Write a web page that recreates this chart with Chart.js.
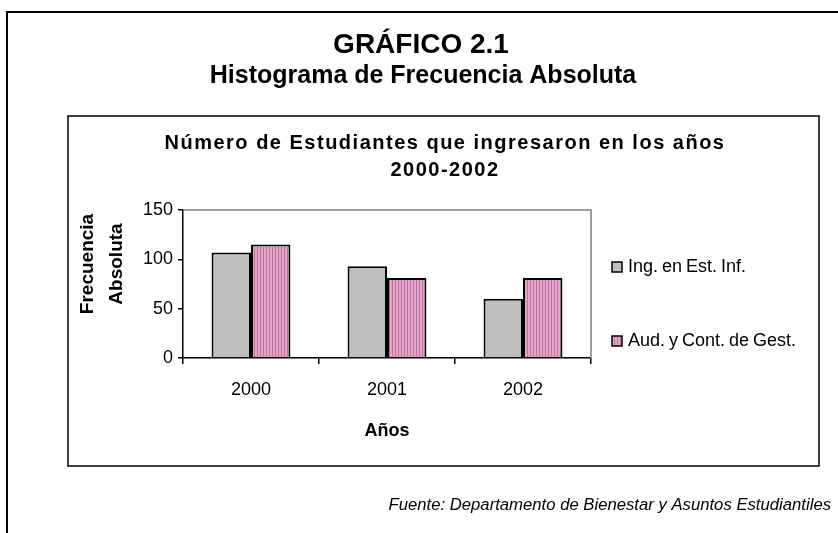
<!DOCTYPE html>
<html>
<head>
<meta charset="utf-8">
<script src="https://cdn.jsdelivr.net/npm/chart.js@4"></script>
<style>
  html, body { margin: 0; padding: 0; background: #fff; }
  canvas { display: block; }
</style>
</head>
<body>
<canvas id="grafico" width="838" height="533"></canvas>
<script>
// datos
const anios = ['2000', '2001', '2002'];
const ingEstInf = [107, 93, 60];
const audContGest = [115, 81, 81];
const nombresSeries = ['Ing. en Est. Inf.', 'Aud. y Cont. de Gest.'];
const ticksY = [0, 50, 100, 150];

const tituloPrincipal = 'GRÁFICO 2.1';
const subtitulo = 'Histograma de Frecuencia Absoluta';
const tituloInterno = ['Número de Estudiantes que ingresaron en los años', '2000-2002'];
const tituloY = ['Frecuencia', 'Absoluta'];
const tituloX = 'Años';
const fuente = 'Fuente: Departamento de Bienestar y Asuntos Estudiantiles';

const FAM = '"Liberation Sans", Arial, sans-serif';

const canvas = document.getElementById('grafico');
const ctx = canvas.getContext('2d');

// rayado vertical de la serie rosada
function rayado() {
    const c = document.createElement('canvas');
    c.width = 3;
    c.height = 1;
    const g = c.getContext('2d');
    g.fillStyle = '#e2a6c8';
    g.fillRect(0, 0, 3, 1);
    g.fillStyle = '#bf739f';
    g.fillRect(2, 0, 1, 1);
    return ctx.createPattern(c, 'repeat');
}

const marco = {
    id: 'marco',
    beforeDraw(chart) {
        const c = chart.ctx;
        c.save();
        c.fillStyle = '#fff';
        c.fillRect(0, 0, chart.width, chart.height);
        c.strokeStyle = '#000';
        c.lineWidth = 2;
        c.beginPath();
        c.moveTo(838, 12);
        c.lineTo(7, 12);
        c.lineTo(7, 533);
        c.stroke();
        c.lineWidth = 1.5;
        c.strokeRect(68, 116, 751, 350);

        c.fillStyle = '#000';
        c.textAlign = 'center';
        c.textBaseline = 'middle';
        c.font = 'bold 28px ' + FAM;
        c.fillText(tituloPrincipal, 421, 45);
        c.font = 'bold 25px ' + FAM;
        c.fillText(subtitulo, 423, 76);
        c.font = 'bold 20px ' + FAM;
        c.letterSpacing = '1.5px';
        c.fillText(tituloInterno[0], 445, 143);
        c.fillText(tituloInterno[1], 445, 170);
        c.letterSpacing = '0px';
        c.font = 'italic 16.7px ' + FAM;
        c.textAlign = 'right';
        c.fillText(fuente, 831, 505);

        // titulo del eje Y (dos lineas, algo por encima del centro del eje)
        c.font = 'bold 19px ' + FAM;
        c.textAlign = 'center';
        c.translate(0, 264);
        c.rotate(-Math.PI / 2);
        c.fillText(tituloY[0], 0, 88);
        c.fillText(tituloY[1], 0, 117);
        c.restore();
    },
    beforeDatasetsDraw(chart) {
        const a = chart.chartArea;
        const c = chart.ctx;
        c.save();
        c.strokeStyle = '#808080';
        c.lineWidth = 1.5;
        c.beginPath();
        c.moveTo(a.left, a.top);
        c.lineTo(a.right, a.top);
        c.lineTo(a.right, a.bottom);
        c.stroke();
        c.restore();
    },
    afterDraw(chart) {
        // leyenda
        const c = chart.ctx;
        const ys = [267, 341];
        c.save();
        c.font = '18px ' + FAM;
        c.textBaseline = 'middle';
        c.textAlign = 'left';
        c.wordSpacing = '-1px';
        chart.data.datasets.forEach((ds, i) => {
            c.fillStyle = ds.backgroundColor;
            c.fillRect(612, ys[i] - 5, 10, 10);
            c.strokeStyle = '#000';
            c.lineWidth = 1.5;
            c.strokeRect(612, ys[i] - 5, 10, 10);
            c.fillStyle = '#000';
            c.fillText(ds.label, 628, ys[i]);
        });
        c.restore();
    }
};

new Chart(ctx, {
    type: 'bar',
    data: {
        labels: anios,
        datasets: [
            {
                label: nombresSeries[0],
                data: ingEstInf,
                backgroundColor: '#c0c0c0',
                borderColor: '#000',
                borderWidth: 2
            },
            {
                label: nombresSeries[1],
                data: audContGest,
                backgroundColor: rayado(),
                borderColor: '#000',
                borderWidth: 2
            }
        ]
    },
    options: {
        responsive: false,
        animation: false,
        layout: { padding: { left: 72, top: 210, right: 247, bottom: 85 } },
        plugins: {
            legend: { display: false },
            tooltip: { enabled: false }
        },
        datasets: { bar: { categoryPercentage: 0.58, barPercentage: 1 } },
        scales: {
            x: {
                grid: { drawOnChartArea: false, color: '#000', lineWidth: 1.5, tickLength: 6, offset: true },
                border: { color: '#000', width: 1.5 },
                ticks: { color: '#000', font: { family: FAM, size: 18 }, padding: 15 },
                title: {
                    display: true,
                    text: tituloX,
                    color: '#000',
                    font: { family: FAM, size: 18, weight: 'bold' },
                    padding: { top: 0, bottom: 6 }
                },
                afterFit(s) { s.height = 90; }
            },
            y: {
                min: 0,
                max: 150,
                afterBuildTicks(s) { s.ticks = ticksY.map(v => ({ value: v })); },
                grid: { drawOnChartArea: false, color: '#000', lineWidth: 1.5, tickLength: 5 },
                border: { color: '#000', width: 1.5 },
                ticks: { color: '#000', font: { family: FAM, size: 18 }, padding: 5 },
                afterFit(s) { s.width = 111; }
            }
        }
    },
    plugins: [marco]
});
</script>
</body>
</html>
